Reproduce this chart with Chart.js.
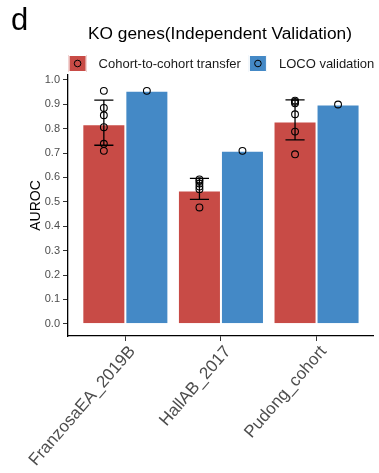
<!DOCTYPE html>
<html>
<head>
<meta charset="utf-8">
<script src="https://cdn.jsdelivr.net/npm/chart.js@4/dist/chart.umd.min.js"></script>
<style>
  html, body { margin: 0; padding: 0; background: #ffffff; }
  #wrap { position: relative; width: 379px; height: 473px; }
</style>
</head>
<body>
<div id="wrap"><canvas id="c" width="379" height="473"></canvas></div>
<script>
// Cohorts used as validation targets
const categories = ['FranzosaEA_2019B', 'HallAB_2017', 'Pudong_cohort'];

// Cohort-to-cohort transfer: mean AUROC, SD range and individual runs
const transferMean = [0.818, 0.546, 0.829];
const transferLow = [0.732, 0.510, 0.754];
const transferHigh = [0.917, 0.596, 0.918];
const transferRuns = [
  [0.955, 0.885, 0.855, 0.806, 0.738, 0.709],
  [0.592, 0.585, 0.575, 0.563, 0.552, 0.477],
  [0.915, 0.910, 0.904, 0.859, 0.788, 0.695]
];

// Leave-one-cohort-out validation AUROC
const locoAuroc = [0.955, 0.709, 0.899];

// Y axis tick values
const yTicks = [0, 0.1, 0.2, 0.3, 0.4, 0.5, 0.6, 0.7, 0.8, 0.9, 1.0];

const seriesNames = ['Cohort-to-cohort transfer', 'LOCO validation'];
const RED = '#C84B46';
const BLUE = '#4489C6';
const DODGE = 0.225;
const FONT = '"Liberation Sans", Arial, sans-serif';

const redPoints = [];
transferRuns.forEach((runs, i) => runs.forEach(v => redPoints.push({ x: i + 1 - DODGE, y: v })));
const bluePoints = locoAuroc.map((v, i) => ({ x: i + 1 + DODGE, y: v }));

// Error bars for the transfer series, drawn right after its bars
const errorBars = {
  id: 'errorBars',
  afterDatasetDraw(chart, args) {
    if (args.index !== 0) return;
    const { ctx, scales: { x, y } } = chart;
    ctx.save();
    ctx.strokeStyle = '#000000';
    ctx.lineWidth = 1.3;
    const half = x.getPixelForValue(1.1) - x.getPixelForValue(1);
    categories.forEach((c, i) => {
      const cx = x.getPixelForValue(i + 1 - DODGE);
      const yl = y.getPixelForValue(transferLow[i]);
      const yh = y.getPixelForValue(transferHigh[i]);
      ctx.beginPath();
      ctx.moveTo(cx, yl); ctx.lineTo(cx, yh);
      ctx.moveTo(cx - half, yl); ctx.lineTo(cx + half, yl);
      ctx.moveTo(cx - half, yh); ctx.lineTo(cx + half, yh);
      ctx.stroke();
    });
    ctx.restore();
  }
};

// Panel tag, title and legend above the plot
const header = {
  id: 'header',
  afterDraw(chart) {
    const { ctx, chartArea } = chart;
    const mid = (chartArea.left + chartArea.right) / 2;
    ctx.save();
    ctx.fillStyle = '#000000';
    ctx.textBaseline = 'alphabetic';
    ctx.textAlign = 'left';
    ctx.font = '31px ' + FONT;
    ctx.fillText('d', 11, 30);

    ctx.font = '17.3px ' + FONT;
    ctx.textAlign = 'center';
    ctx.fillText('KO genes(Independent Validation)', mid - 1, 39);

    // legend
    ctx.font = '13px ' + FONT;
    ctx.textAlign = 'left';
    ctx.textBaseline = 'middle';
    const colors = [RED, BLUE];
    const keyW = 18, keyH = 17, gapKeyText = 12, gapItems = 8;
    const widths = seriesNames.map(s => ctx.measureText(s).width);
    const total = widths.reduce((a, w) => a + keyW + gapKeyText + w, 0) + gapItems;
    let lx = mid - total / 2 + 0.5;
    const ky = 55;
    seriesNames.forEach((s, i) => {
      ctx.fillStyle = colors[i];
      ctx.fillRect(lx, ky, keyW, keyH);
      ctx.strokeStyle = '#ffffff';
      ctx.lineWidth = 1;
      ctx.strokeRect(lx + 0.5, ky + 0.5, keyW - 1, keyH - 1);
      ctx.beginPath();
      ctx.arc(lx + keyW / 2, ky + keyH / 2, 3.3, 0, Math.PI * 2);
      ctx.strokeStyle = '#000000';
      ctx.lineWidth = 1;
      ctx.stroke();
      ctx.fillStyle = '#1a1a1a';
      ctx.fillText(s, lx + keyW + gapKeyText, ky + keyH / 2 + 0.5);
      lx += keyW + gapKeyText + widths[i] + gapItems;
    });
    ctx.restore();
  }
};

new Chart(document.getElementById('c'), {
  type: 'bar',
  data: {
    datasets: [
      {
        label: seriesNames[0],
        data: transferMean.map((v, i) => ({ x: i + 1, y: v })),
        backgroundColor: RED,
        borderColor: '#ffffff',
        borderWidth: 1,
        categoryPercentage: 0.9,
        barPercentage: 1.0,
        order: 1
      },
      {
        label: seriesNames[1],
        data: locoAuroc.map((v, i) => ({ x: i + 1, y: v })),
        backgroundColor: BLUE,
        borderColor: '#ffffff',
        borderWidth: 1,
        categoryPercentage: 0.9,
        barPercentage: 1.0,
        order: 1
      },
      {
        type: 'scatter',
        label: seriesNames[0] + ' runs',
        data: redPoints,
        pointRadius: 3.4,
        pointBorderWidth: 1.1,
        pointBorderColor: '#000000',
        pointBackgroundColor: 'rgba(0,0,0,0)',
        order: 0
      },
      {
        type: 'scatter',
        label: seriesNames[1] + ' runs',
        data: bluePoints,
        pointRadius: 3.4,
        pointBorderWidth: 1.1,
        pointBorderColor: '#000000',
        pointBackgroundColor: 'rgba(0,0,0,0)',
        order: 0
      }
    ]
  },
  options: {
    responsive: false,
    animation: false,
    layout: { padding: { top: 75, right: 3, left: 0, bottom: 0 } },
    plugins: {
      legend: { display: false },
      tooltip: { enabled: false },
      title: { display: false }
    },
    scales: {
      x: {
        type: 'linear',
        min: 0.4,
        max: 3.6,
        offset: false,
        afterBuildTicks(scale) {
          scale.ticks = categories.map((c, i) => ({ value: i + 1 }));
        },
        afterFit(scale) { scale.height = 137; },
        grid: { display: true, offset: false, drawOnChartArea: false, drawTicks: true, tickLength: 5, color: '#333333', lineWidth: 1 },
        border: { display: true, color: '#000000', width: 1.3 },
        ticks: {
          autoSkip: false,
          minRotation: 49,
          maxRotation: 49,
          padding: 1,
          labelOffset: 7,
          color: '#4D4D4D',
          font: { family: FONT, size: 17 },
          callback: (v) => categories[Math.round(v) - 1]
        }
      },
      y: {
        min: -0.05,
        max: 1.02,
        afterBuildTicks(scale) {
          scale.ticks = yTicks.map(v => ({ value: v }));
        },
        afterFit(scale) { scale.width = 68; },
        grid: { display: true, offset: false, drawOnChartArea: false, drawTicks: true, tickLength: 5, color: '#333333', lineWidth: 1 },
        border: { display: true, color: '#000000', width: 1.3 },
        title: {
          display: true,
          text: 'AUROC',
          color: '#000000',
          font: { family: FONT, size: 14 },
          padding: { top: 28, bottom: 0 }
        },
        ticks: {
          padding: 3,
          color: '#4D4D4D',
          font: { family: FONT, size: 11 },
          callback: (v) => v.toFixed(1)
        }
      }
    }
  },
  plugins: [errorBars, header]
});
</script>
</body>
</html>
